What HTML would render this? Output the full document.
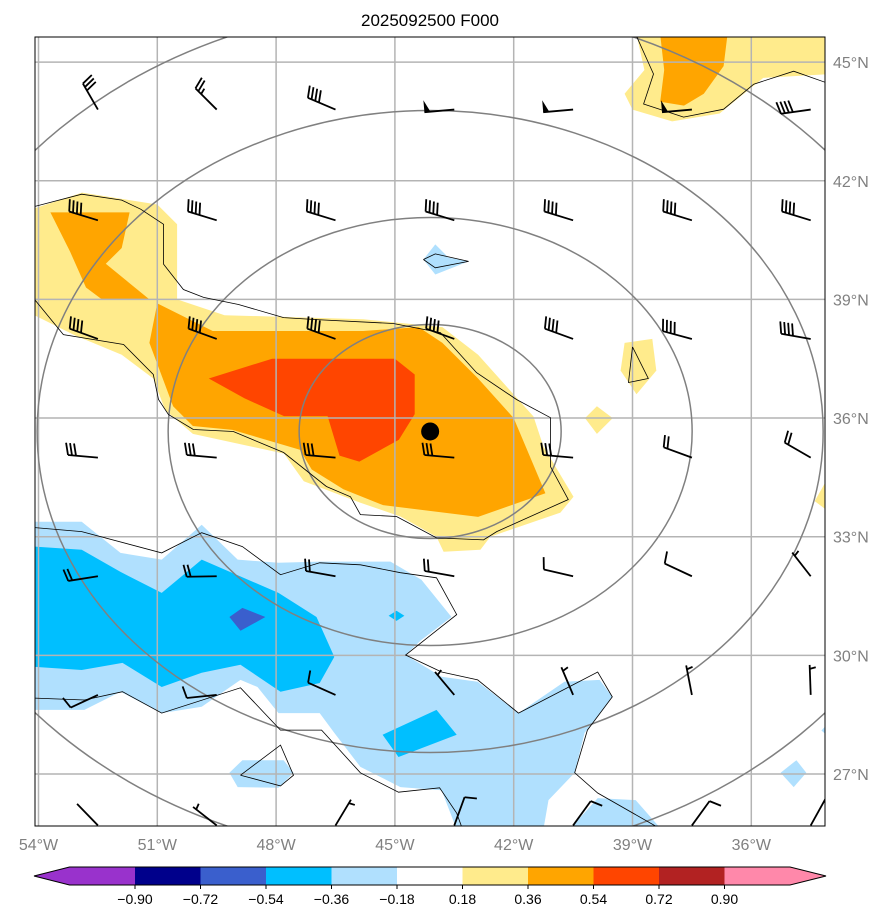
<!DOCTYPE html>
<html><head><meta charset="utf-8">
<style>
html,body{margin:0;padding:0;background:#fff;width:895px;height:924px;overflow:hidden;font-family:"Liberation Sans",sans-serif}
svg{position:absolute;left:0;top:0;display:block}
</style></head>
<body>
<svg id="chart" width="895" height="924" xmlns="http://www.w3.org/2000/svg">
<defs><clipPath id="plotclip"><rect x="35" y="37" width="790" height="789"/></clipPath></defs>
<text x="430" y="26" text-anchor="middle" font-size="17" fill="#000">2025092500 F000</text>
<g id="fills" clip-path="url(#plotclip)"></g>
<g id="grid" clip-path="url(#plotclip)"></g>
<g id="rings" clip-path="url(#plotclip)"></g>
<g id="lines" clip-path="url(#plotclip)"></g>
<g id="barbs" clip-path="url(#plotclip)"></g>
<rect x="35" y="37" width="790" height="789" fill="none" stroke="#000" stroke-width="1"/>
<g id="axes"></g>
<g id="cbar"></g>
</svg>
<script>
const NS="http://www.w3.org/2000/svg";
const lonTicks=[-54,-51,-48,-45,-42,-39,-36];
const latTicks=[45,42,39,36,33,30,27];
const cbarLevels=[-0.90,-0.72,-0.54,-0.36,-0.18,0.18,0.36,0.54,0.72,0.90];
const cbarColors=["#9932cc","#00008b","#3a5fcd","#00bfff","#b0e0fe","#ffffff","#ffeb8c","#ffa500","#ff4500","#b22222","#ff88aa"];
const center=[-44.11,35.66];
const ringNumbers=[1,2,3,4,5];
const yellowMain=[[-54.1,41.3],[-52.9,41.7],[-51.0,41.4],[-50.5,40.9],[-50.5,39.0],[-49.3,38.6],[-45.8,38.5],[-43.8,38.3],[-42.9,37.6],[-41.5,36.04],[-41.25,35.28],[-40.49,34.01],[-40.82,33.61],[-42.59,33.0],[-42.84,32.67],[-43.77,32.62],[-43.95,33.0],[-44.86,33.51],[-45.87,33.86],[-47.3,34.4],[-47.8,35.1],[-50.1,35.6],[-50.8,36.2],[-51.1,37.0],[-51.9,37.6],[-53.1,38.1],[-54.1,38.6]];
const yellowTopRight=[[-38.9,45.7],[-34.0,45.7],[-34.0,44.7],[-35.7,44.6],[-36.8,43.7],[-38.0,43.5],[-39.0,43.8],[-39.2,44.2],[-38.7,44.8]];
const yellowSpot1=[[-39.2,37.9],[-38.5,38.0],[-38.4,37.2],[-38.9,36.6],[-39.3,37.2]];
const yellowSpot2=[[-40.2,36.0],[-39.9,36.3],[-39.5,36.0],[-39.9,35.6]];
const yellowSpot3=[[-34.0,34.6],[-34.4,33.9],[-34.0,33.6]];
const orangeLeft=[[-53.7,41.2],[-51.7,41.2],[-51.9,40.3],[-52.3,39.9],[-51.2,39.0],[-52.4,39.0],[-52.8,39.3],[-53.2,40.2]];
const orangeMain=[[-51.0,38.9],[-49.6,38.2],[-45.8,38.2],[-44.4,38.3],[-43.8,37.9],[-42.9,37.0],[-42.0,36.0],[-41.2,34.1],[-42.9,33.5],[-45.3,33.8],[-46.3,34.2],[-47.1,34.7],[-47.4,35.2],[-49.1,35.7],[-50.1,35.8],[-50.6,36.3],[-51.2,37.9]];
const orangeTopRight=[[-38.3,45.7],[-36.6,45.7],[-36.7,44.9],[-37.2,44.2],[-37.7,43.9],[-38.3,44.0],[-38.2,44.8]];
const redMain=[[-49.7,37.0],[-48.1,37.5],[-45.0,37.5],[-44.5,37.1],[-44.5,36.1],[-44.9,35.45],[-45.9,34.9],[-46.4,35.05],[-46.7,36.05],[-47.8,36.05],[-48.8,36.5]];
const lightBlueMain=[[-54.1,33.38],[-52.91,33.38],[-51.93,32.59],[-50.89,32.42],[-49.88,33.3],[-48.97,32.42],[-47.94,32.34],[-46.9,32.37],[-45.11,32.37],[-44.33,31.91],[-43.57,30.97],[-44.33,30.39],[-44.73,30.01],[-43.82,29.46],[-42.91,29.33],[-41.88,28.54],[-40.72,29.33],[-39.83,29.38],[-39.51,28.95],[-40.21,28.04],[-40.46,27.03],[-41.12,26.34],[-41.25,25.6],[-43.44,25.6],[-43.82,26.59],[-44.86,26.67],[-45.87,27.18],[-46.53,28.04],[-46.9,28.54],[-47.94,28.54],[-48.47,29.2],[-48.9,29.38],[-49.88,28.7],[-50.89,28.54],[-51.93,29.08],[-52.84,28.62],[-54.1,28.62]];
const lightBlueLeftBlob=[[-49.18,27.03],[-48.85,27.35],[-47.81,27.35],[-47.56,27.03],[-47.94,26.65],[-48.97,26.67]];
const lightBlueBottomBlob=[[-40.59,25.6],[-39.88,26.39],[-38.92,26.34],[-38.27,25.6]];
const lightBlueRightBlob=[[-35.26,27.03],[-34.86,27.35],[-34.61,27.03],[-34.93,26.67]];
const lightBlueEdge=[[-34.23,28.1],[-34.0,28.35],[-34.0,27.9]];
const lightBlueNorth=[[-44.28,40.01],[-43.98,40.39],[-43.65,40.06],[-43.14,39.96],[-43.98,39.63]];
const deepBlueMain=[[-54.1,32.75],[-52.91,32.67],[-51.93,32.11],[-50.89,31.58],[-49.88,32.42],[-47.94,31.58],[-46.98,30.97],[-46.53,29.96],[-46.9,29.3],[-47.89,29.08],[-48.9,29.76],[-49.88,29.56],[-50.89,29.2],[-51.88,29.81],[-52.91,29.63],[-54.1,29.71]];
const deepBlueSmall=[[-45.16,31.0],[-44.96,31.13],[-44.76,31.0],[-44.96,30.87]];
const deepBlueSouth=[[-45.31,27.99],[-43.95,28.62],[-43.44,27.99],[-44.91,27.43]];
const royalBlueSpot=[[-49.18,30.97],[-48.85,31.2],[-48.27,30.97],[-48.9,30.62]];
const contourNorth=[[-54.1,41.35],[-52.91,41.66],[-51.9,41.51],[-51.42,41.28],[-50.84,40.9],[-50.84,39.89],[-50.34,39.25],[-49.83,39.05],[-48.95,38.87],[-47.81,38.54],[-46.98,38.49],[-45.04,38.39],[-43.85,38.16],[-42.94,37.15],[-41.93,36.47],[-41.07,36.01],[-41.07,34.77],[-40.62,33.94],[-42.43,33.13],[-42.76,32.92],[-43.95,32.97],[-44.96,33.51],[-45.87,33.56],[-46.12,34.01],[-46.73,34.27],[-47.81,35.13],[-49.08,35.66],[-50.09,35.71],[-50.72,36.09],[-50.97,36.47],[-51.1,37.1],[-51.85,37.86],[-53.37,38.11],[-54.1,39.0]];
const contourBlueUpper=[[-54.1,33.23],[-52.91,33.13],[-50.89,32.59],[-49.88,33.1],[-48.85,32.75],[-47.89,32.04],[-46.9,32.34],[-45.87,32.29],[-44.86,32.09],[-43.95,31.96],[-43.44,31.03],[-44.73,30.01],[-43.82,29.58],[-42.91,29.38],[-41.88,28.54],[-39.88,29.58],[-39.51,28.95],[-40.14,28.11],[-40.46,27.03],[-39.88,26.52],[-38.27,25.6]];
const contourBlueLower=[[-54.1,28.92],[-52.84,28.87],[-51.88,29.08],[-50.89,28.54],[-48.9,29.18],[-47.89,28.11],[-46.85,28.11],[-45.87,27.03],[-44.91,26.54],[-43.87,26.65],[-43.44,26.01],[-43.29,25.6]];
const contourTopRight=[[-38.92,45.7],[-38.47,44.7],[-38.72,43.94],[-37.71,43.61],[-36.7,43.81],[-35.94,44.44],[-34.93,44.77],[-34.0,44.44]];
const contourBlob=[[-48.9,26.97],[-47.89,27.73],[-47.56,26.97],[-47.89,26.7],[-48.9,26.97]];
const contourSpot=[[-39.0,37.8],[-38.6,37.0],[-39.1,36.9],[-39.0,37.8]];
const contourNorthSmall=[[-44.28,40.01],[-43.98,39.8],[-43.14,39.96],[-43.98,40.15],[-44.28,40.01]];
// wind barbs: lon, lat, shaft compass direction (deg), speed (kt)
const barbLon=[-52.5,-49.5,-46.5,-43.5,-40.5,-37.5,-34.5];
const barbLat=[43.8,41,38,35,32,29,25.7];
const barbDir=[
 [330,315,293,265,265,265,262],
 [287,287,287,287,287,287,287],
 [290,290,290,290,290,285,280],
 [275,275,275,275,275,290,300],
 [261,269,280,280,283,295,322],
 [245,264,294,320,337,349,358],
 [316,308,31,20,36,36,29]];
const barbSpd=[
 [30,25,40,50,50,50,40],
 [40,40,40,40,40,40,40],
 [40,40,40,40,40,40,40],
 [30,30,30,30,30,20,20],
 [20,20,20,20,10,10,5],
 [10,10,10,5,5,5,5],
 [0,5,5,10,10,10,10]];

const X=lon=>38.5+(lon+54)*39.6;
const Y=lat=>62.1+(45-lat)*39.55;
function el(tag,attrs,parent){const e=document.createElementNS(NS,tag);for(const k in attrs)e.setAttribute(k,attrs[k]);parent.appendChild(e);return e;}
const pts=arr=>arr.map(p=>X(p[0]).toFixed(1)+","+Y(p[1]).toFixed(1)).join(" ");

const fills=document.getElementById("fills");
const fillList=[
 [yellowMain,6,"fill-yellow-main"],[yellowTopRight,6,"fill-yellow-northeast"],[yellowSpot1,6,"fill-yellow-spot"],[yellowSpot2,6,"fill-yellow-spot"],[yellowSpot3,6,"fill-yellow-edge"],
 [orangeLeft,7,"fill-orange-west"],[orangeMain,7,"fill-orange-main"],[orangeTopRight,7,"fill-orange-northeast"],[redMain,8,"fill-red-core"],
 [lightBlueMain,4,"fill-lightblue-main"],[lightBlueLeftBlob,4,"fill-lightblue-blob"],[lightBlueBottomBlob,4,"fill-lightblue-south"],[lightBlueRightBlob,4,"fill-lightblue-east"],[lightBlueEdge,4,"fill-lightblue-edge"],[lightBlueNorth,4,"fill-lightblue-north"],
 [deepBlueMain,3,"fill-blue-main"],[deepBlueSmall,3,"fill-blue-spot"],[deepBlueSouth,3,"fill-blue-south"],[royalBlueSpot,2,"fill-royalblue-spot"]];
fillList.forEach(f=>{
 const p=el("polygon",{points:pts(f[0]),fill:cbarColors[f[1]],stroke:"none"},fills);
 
 
});

const grid=document.getElementById("grid");
lonTicks.forEach(l=>{const g=el("line",{x1:X(l),x2:X(l),y1:37,y2:826,stroke:"#b4b4b4","stroke-width":1.5},grid);
 
 });
latTicks.forEach(l=>{const g=el("line",{x1:35,x2:825,y1:Y(l),y2:Y(l),stroke:"#b4b4b4","stroke-width":1.5},grid);
 
 });

const rings=document.getElementById("rings");
ringNumbers.forEach(n=>{const r=el("ellipse",{cx:X(center[0]),cy:Y(center[1]),rx:131*n,ry:107*n,fill:"none",stroke:"#808080","stroke-width":1.5},rings);
 
 });

const lines=document.getElementById("lines");
[contourNorth,contourBlueUpper,contourBlueLower,contourTopRight,contourBlob,contourSpot,contourNorthSmall].forEach(c=>{
 const l=el("polyline",{points:pts(c),fill:"none",stroke:"#000","stroke-width":0.8},lines);
 
 });

const barbs=document.getElementById("barbs");
barbLat.forEach((lat,i)=>barbLon.forEach((lon,j)=>{
 const a=barbDir[i][j]*Math.PI/180, dx=Math.sin(a), dy=-Math.cos(a);
 const sx=X(lon), sy=Y(lat), L=30, tx=sx+dx*L, ty=sy+dy*L;
 const px=-dy, py=dx;
 const g=el("g",{stroke:"#000","stroke-width":1.8,fill:"#000"},barbs);
 
 
 el("line",{x1:sx,y1:sy,x2:tx,y2:ty},g);
 let s=barbSpd[i][j], pos=0;
 const at=d=>[tx-dx*d,ty-dy*d];
 while(s>=50){const b=at(pos),c=at(pos+6);el("polygon",{points:`${b[0]},${b[1]} ${c[0]},${c[1]} ${b[0]+px*12},${b[1]+py*12}`,stroke:"none"},g);pos+=8;s-=50;}
 while(s>=10){const b=at(pos);el("line",{x1:b[0],y1:b[1],x2:b[0]+px*12+dx*3,y2:b[1]+py*12+dy*3},g);pos+=4;s-=10;}
 if(s>=5){if(pos===0)pos=4;const b=at(pos);el("line",{x1:b[0],y1:b[1],x2:b[0]+px*6+dx*1.5,y2:b[1]+py*6+dy*1.5},g);}
}));
const dot=el("circle",{cx:X(center[0]),cy:Y(center[1]),r:9,fill:"#000"},barbs);



const axes=document.getElementById("axes");
lonTicks.forEach(l=>{const t=el("text",{x:Math.max(35,X(l)),y:850,"text-anchor":"middle","font-size":16,fill:"#808080"},axes);t.textContent=Math.abs(l)+"°W";
 
 });
latTicks.forEach(l=>{const t=el("text",{x:833,y:Y(l)+6,"font-size":16,fill:"#808080"},axes);t.textContent=l+"°N";
 
 });

const cbar=document.getElementById("cbar");
const cx0=69.5, cw=65.5, cy=867, ch=18;
for(let k=0;k<11;k++){
 const r=el("rect",{x:cx0+k*cw,y:cy,width:cw+0.5,height:ch,fill:cbarColors[k]},cbar);
 
 
}
const lt=el("polygon",{points:`${cx0},${cy} 34,${cy+ch/2} ${cx0},${cy+ch}`,fill:cbarColors[0]},cbar);


const rx=cx0+11*cw;
const rt=el("polygon",{points:`${rx},${cy} 826,${cy+ch/2} ${rx},${cy+ch}`,fill:cbarColors[10]},cbar);


const outline=el("polygon",{points:`${cx0},${cy} ${rx},${cy} 826,${cy+ch/2} ${rx},${cy+ch} ${cx0},${cy+ch} 34,${cy+ch/2}`,fill:"none",stroke:"#000","stroke-width":1},cbar);


cbarLevels.forEach((v,k)=>{
 const x=cx0+(k+1)*cw;
 el("line",{x1:x,x2:x,y1:cy+ch,y2:cy+ch+4,stroke:"#000"},cbar);
 const t=el("text",{x:x,y:904,"text-anchor":"middle","font-size":14,fill:"#000"},cbar);
 t.textContent=(v<0?"\u2212":"")+Math.abs(v).toFixed(2);
 
 
});
</script>
</body></html>
